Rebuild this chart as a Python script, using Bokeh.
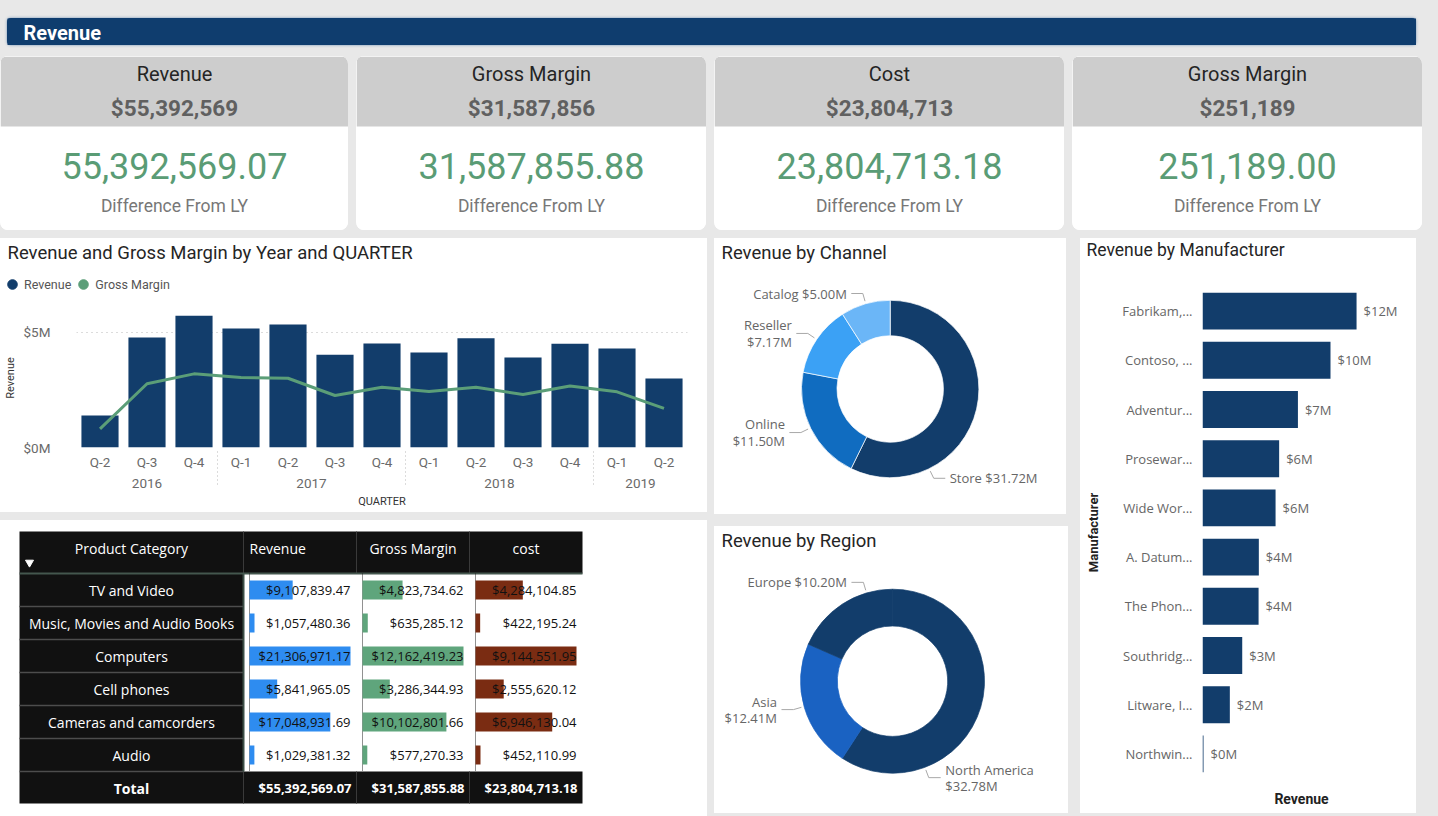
import numpy as np
from bokeh.plotting import figure
from bokeh.layouts import row, column
from bokeh.models import (ColumnDataSource, FactorRange, Range1d, Label, Legend,
                          LegendItem, FixedTicker, CustomJSTickFormatter)
from bokeh.core.properties import value
from bokeh.embed import file_html
from bokeh.resources import INLINE

# ---------------- data ----------------
kpi_titles = ["Revenue", "Gross Margin", "Cost", "Gross Margin"]
kpi_values = [55392569.07, 31587855.88, 23804713.18, 251189.00]
kpi_caption = "Difference From LY"

years = ["2016", "2016", "2016", "2017", "2017", "2017", "2017",
         "2018", "2018", "2018", "2018", "2019", "2019"]
quarters = ["Q-2", "Q-3", "Q-4", "Q-1", "Q-2", "Q-3", "Q-4",
            "Q-1", "Q-2", "Q-3", "Q-4", "Q-1", "Q-2"]
quarter_revenue = [1.39e6, 4.78e6, 5.72e6, 5.17e6, 5.35e6, 4.03e6, 4.52e6,
                   4.13e6, 4.75e6, 3.91e6, 4.51e6, 4.30e6, 3.00e6]
quarter_gross_margin = [0.81e6, 2.77e6, 3.20e6, 3.04e6, 3.01e6, 2.26e6, 2.62e6,
                        2.43e6, 2.62e6, 2.30e6, 2.67e6, 2.42e6, 1.70e6]

channels = ["Store", "Online", "Reseller", "Catalog"]
channel_revenue = [31.72e6, 11.50e6, 7.17e6, 5.00e6]

regions = ["North America", "Asia", "Europe"]
region_revenue = [32.78e6, 12.41e6, 10.20e6]

manufacturers = ["Fabrikam,...", "Contoso, ...", "Adventur...", "Prosewar...",
                 "Wide Wor...", "A. Datum...", "The Phon...", "Southridg...",
                 "Litware, I...", "Northwin..."]
manufacturer_revenue = [12.06e6, 10.02e6, 7.47e6, 6.00e6, 5.72e6,
                        4.41e6, 4.39e6, 3.11e6, 2.14e6, 0.08e6]

table_headers = ["Product Category", "Revenue", "Gross Margin", "cost"]
product_categories = ["TV and Video", "Music, Movies and Audio Books", "Computers",
                      "Cell phones", "Cameras and camcorders", "Audio"]
category_revenue = [9107839.47, 1057480.36, 21306971.17, 5841965.05, 17048931.69, 1029381.32]
category_gross_margin = [4823734.62, 635285.12, 12162419.23, 3286344.93, 10102801.66, 577270.33]
category_cost = [4284104.85, 422195.24, 9144551.95, 2555620.12, 6946130.04, 452110.99]
total_label = "Total"
table_totals = [55392569.07, 31587855.88, 23804713.18]

# ---------------- styles ----------------
BG = "#e8e8e8"
NAVY = "#123d6b"
GREEN = "#5b9e78"
TFONT = "Roboto"
BFONT = "Open Sans"
channel_colors = ["#123d6b", "#106cc0", "#3ba1f5", "#6bb6f7"]
region_colors = ["#123d6b", "#1a62c2", "#123d6b"]
table_bar_colors = ["#2e8cf0", "#5fa57c", "#7a2c12"]
WHITE_HOST = {"background-color": "white"}


def base_fig(w, h, xr, yr, styles=None, **kw):
    p = figure(width=w, height=h, x_range=xr, y_range=yr, toolbar_location=None,
               output_backend="svg", min_border=0, x_axis_type=None, y_axis_type=None,
               frame_align=False, styles=styles or WHITE_HOST, **kw)
    p.outline_line_color = None
    p.background_fill_color = "white"
    p.border_fill_color = "white"
    return p


def style_axis(ax, font):
    ax.axis_line_color = None
    ax.major_tick_line_color = None
    ax.minor_tick_line_color = None
    ax.major_tick_out = 0
    ax.major_tick_in = 0
    ax.major_label_text_font = font
    ax.axis_label_text_font = TFONT


# ---------------- title bar ----------------
tb = base_fig(1409, 27, Range1d(0, 1409), Range1d(27, 0), margin=(18, 0, 0, 7),
              styles={"background-color": "#0f3d6e", "border-radius": "4px",
                      "box-shadow": "0 0 3px #6d8fb3"})
tb.background_fill_color = "#0f3d6e"
tb.border_fill_color = "#0f3d6e"
tb.add_layout(Label(x=16, y=14, text="Revenue", text_color="white", text_font=TFONT,
                    text_font_style="bold", text_font_size="20px", text_baseline="middle"))


# ---------------- KPI cards ----------------
def kpi_card(title, v, w):
    p = base_fig(w, 174, Range1d(0, w), Range1d(174, 0),
                 styles={"background-color": "white", "border-radius": "8px", "overflow": "hidden"})
    p.quad(left=[0], right=[w], top=[0], bottom=[70], fill_color="#cdcdcd", line_color=None)
    specs = [(title, 17, "20px", "normal", "#252525"),
             (f"${v:,.0f}", 51, "22.5px", "bold", "#606060"),
             (f"{v:,.2f}", 109, "36px", "normal", "#5a9c75"),
             (kpi_caption, 149, "17.5px", "normal", "#777777")]
    for text, y, size, style, color in specs:
        p.add_layout(Label(x=w / 2, y=y, text=text, text_align="center", text_baseline="middle",
                           text_font=TFONT, text_font_size=size, text_font_style=style,
                           text_color=color))
    return p


card_widths = [348, 350, 350, 350]
cards = [kpi_card(t, v, w) for t, v, w in zip(kpi_titles, kpi_values, card_widths)]
kpi_row = row(*cards, spacing=8, margin=(11, 0, 0, 0))

# ---------------- bar + line chart ----------------
BW, BHEAD, BH = 707, 70, 204
BL, BR, BB = 76, 20, 65
bc_head = base_fig(BW, BHEAD, Range1d(0, BW), Range1d(BHEAD, 0))
bc_head.add_layout(Label(x=7, y=14, text="Revenue and Gross Margin by Year and QUARTER",
                         text_font=TFONT, text_font_size="18.5px", text_color="#252525",
                         text_baseline="middle"))
# off-canvas points: only their legend glyphs are seen
r_rev = bc_head.scatter(x=[-1000], y=[-1000], marker="circle", size=10,
                        fill_color=NAVY, line_color=NAVY)
r_gm = bc_head.scatter(x=[-1000], y=[-1000], marker="circle", size=10,
                       fill_color=GREEN, line_color=GREEN)
leg = Legend(items=[LegendItem(label="Revenue", renderers=[r_rev]),
                    LegendItem(label="Gross Margin", renderers=[r_gm])],
             orientation="horizontal", location=(0, 12),
             glyph_width=24, glyph_height=24, label_standoff=-4, spacing=0, padding=0, margin=0,
             border_line_color=None, background_fill_alpha=0,
             label_text_font=TFONT, label_text_font_size="12.5px", label_text_color="#555555")
bc_head.add_layout(leg)

factors = list(zip(years, quarters))
bsrc = ColumnDataSource(dict(x=factors, rev=quarter_revenue, gm=quarter_gross_margin))
bc = figure(width=BW, height=BH, toolbar_location=None, output_backend="svg", frame_align=False,
            x_range=FactorRange(*factors, factor_padding=0, group_padding=0, range_padding=0),
            y_range=Range1d(0, 6.04e6), styles=WHITE_HOST,
            min_border_left=BL, min_border_right=BR, min_border_top=0, min_border_bottom=BB)
bc.outline_line_color = None
bc.border_fill_color = "white"
bc.vbar(x="x", top="rev", width=0.79, source=bsrc, fill_color=NAVY, line_color=None)
bc.line(x="x", y="gm", source=bsrc, line_color=GREEN, line_width=3)
bc.xgrid.grid_line_color = None
bc.ygrid.grid_line_color = "#b8b8b8"
bc.ygrid.grid_line_dash = "1 4"
bc.yaxis.ticker = FixedTicker(ticks=[0, 5e6])
bc.yaxis.formatter = CustomJSTickFormatter(code="return '$' + Math.round(tick/1e6) + 'M';")
for ax in [bc.xaxis[0], bc.yaxis[0]]:
    style_axis(ax, TFONT)
    ax.major_label_text_font_size = "13.5px"
    ax.major_label_text_color = "#6a6a6a"
    ax.axis_label_text_font_size = "11px"
    ax.axis_label_text_font_style = "normal"
    ax.axis_label_text_color = "#333333"
bc.yaxis.axis_label = "Revenue"
bc.yaxis.major_label_standoff = 26
bc.yaxis.axis_label_standoff = 4
bc.xaxis.axis_label = "QUARTER"
bc.xaxis.major_label_standoff = 6
bc.xaxis.axis_label_standoff = 4
bc.xaxis.group_text_font = TFONT
bc.xaxis.group_text_font_size = "13.5px"
bc.xaxis.group_text_font_style = "normal"
bc.xaxis.group_text_color = "#6a6a6a"
bc.xaxis.separator_line_color = "#b8b8b8"
bc.xaxis.separator_line_dash = "1 3"
bc.xaxis.separator_line_width = 1

# ---------------- table ----------------
TW, TH = 707, 296
tf = base_fig(TW, TH, Range1d(0, TW), Range1d(TH, 0))
col_edges = [19, 243, 356, 469, 582]
t_top, head_h, row_h = 11, 42, 33
n = len(product_categories)
row_top = np.array([t_top + head_h + i * row_h for i in range(n)], dtype=float)
row_mid = row_top + row_h / 2
total_top = t_top + head_h + n * row_h
BLACK = "#111111"
tf.quad(left=[col_edges[0], col_edges[0], col_edges[0]],
        right=[col_edges[-1], col_edges[1], col_edges[-1]],
        top=[t_top, t_top + head_h, total_top],
        bottom=[t_top + head_h, total_top, total_top + row_h - 1],
        fill_color=BLACK, line_color=None)
tf.segment(x0=col_edges[0], x1=col_edges[1], y0=list(row_top[1:]) + [total_top],
           y1=list(row_top[1:]) + [total_top], line_color="#4d4d4d", line_width=1.5)
sep_x = col_edges[1:-1]
tf.segment(x0=sep_x, x1=sep_x, y0=[t_top] * 3, y1=[t_top + head_h] * 3, line_color="#3a3a3a", line_width=1)
tf.segment(x0=sep_x, x1=sep_x, y0=[total_top] * 3, y1=[total_top + row_h - 1] * 3,
           line_color="#3a3a3a", line_width=1)
tf.segment(x0=[col_edges[1]], x1=[col_edges[1]], y0=[t_top + head_h], y1=[total_top],
           line_color="#3d4f47", line_width=2)
tf.segment(x0=[col_edges[0]], x1=[col_edges[-1]], y0=[t_top + head_h], y1=[t_top + head_h],
           line_color="#44574e", line_width=2)
bx = [e + 6 for e in col_edges[1:-1]]
tf.segment(x0=bx, x1=bx, y0=[t_top + head_h] * 3, y1=[total_top] * 3,
           line_color="#222222", line_dash="1 1", line_width=1)

measures = [category_revenue, category_gross_margin, category_cost]
for j, vals in enumerate(measures):
    cl, cr = col_edges[j + 1], col_edges[j + 2]
    vals = np.array(vals)
    left = cl + 6
    right = left + vals / vals.max() * (cr - cl - 12)
    tf.quad(left=[left] * n, right=list(right), top=list(row_top + 7), bottom=list(row_top + 26),
            fill_color=table_bar_colors[j], line_color=None)
    tf.text(x=[cr - 6] * n, y=list(row_mid), text=[f"${v:,.2f}" for v in vals],
            text_align="right", text_baseline="middle", text_font=value(BFONT),
            text_font_size="13px", text_color="#111111")
    tf.text(x=[cr - 5], y=[total_top + row_h / 2], text=[f"${table_totals[j]:,.2f}"],
            text_align="right", text_baseline="middle", text_font=value(BFONT),
            text_font_size="13px", text_font_style="bold", text_color="white")

cat_cx = (col_edges[0] + col_edges[1]) / 2
tf.text(x=[cat_cx] * n, y=list(row_mid), text=product_categories, text_align="center",
        text_baseline="middle", text_font=value(BFONT), text_font_size="14px", text_color="white")
tf.text(x=[cat_cx], y=[total_top + row_h / 2], text=[total_label], text_align="center",
        text_baseline="middle", text_font=value(BFONT), text_font_size="14px",
        text_font_style="bold", text_color="white")
head_x = [cat_cx, col_edges[1] + 6, (col_edges[2] + col_edges[3]) / 2, (col_edges[3] + col_edges[4]) / 2]
head_align = ["center", "left", "center", "center"]
for hx, ha, ht in zip(head_x, head_align, table_headers):
    tf.text(x=[hx], y=[t_top + 17], text=[ht], text_align=ha, text_baseline="middle",
            text_font=value(BFONT), text_font_size="14px", text_color="white")
tf.scatter(x=[col_edges[0] + 10], y=[t_top + 31], marker="inverted_triangle", size=8,
           fill_color="white", line_color="white")


# ---------------- donuts ----------------
def donut_fig(w, h, cx, cy, R, names, vals, colors, label_angles, label_seps, title, edge):
    p = base_fig(w, h, Range1d(-cx / R, (w - cx) / R), Range1d(-(h - cy) / R, cy / R))
    frac = np.array(vals) / sum(vals)
    cum = np.concatenate([[0.0], np.cumsum(frac)]) * 2 * np.pi
    src = ColumnDataSource(dict(start=np.pi / 2 - cum[:-1], end=np.pi / 2 - cum[1:], color=colors))
    p.annular_wedge(x=0, y=0, inner_radius=0.6, outer_radius=1.0, start_angle="start",
                    end_angle="end", direction="clock", fill_color="color",
                    line_color=edge, line_width=0.7, source=src)
    a = np.radians(np.array(label_angles))
    side = np.sign(np.sin(a))
    x1, y1 = 1.03 * np.sin(a), 1.03 * np.cos(a)
    x2, y2 = 1.12 * np.sin(a), 1.12 * np.cos(a)
    x3 = x2 + side * 0.13
    p.multi_line(xs=[[u, v, t] for u, v, t in zip(x1, x2, x3)],
                 ys=[[u, v, v] for u, v in zip(y1, y2)], line_color="#a8a8a8", line_width=1)
    texts = [f"{nm}{sp}${v / 1e6:.2f}M" for nm, sp, v in zip(names, label_seps, vals)]
    lsrc = ColumnDataSource(dict(x=x3 + side * 0.05, y=y2, text=texts,
                                 align=["left" if s > 0 else "right" for s in side]))
    p.text(x="x", y="y", text="text", text_align="align", text_baseline="middle",
           text_font=value(BFONT), text_font_size="13px", text_color="#666666",
           text_line_height=0.9, source=lsrc)
    p.add_layout(Label(x=(7 - cx) / R, y=(cy - 14) / R, text=title, text_font=TFONT,
                       text_font_size="18.5px", text_color="#252525", text_baseline="middle"))
    return p


channel_fig = donut_fig(352, 276, 175.7, 150.5, 88.7, channels, channel_revenue, channel_colors,
                        [154, 244, 304, 344], [" ", "\n", "\n", " "], "Revenue by Channel", "white")
region_fig = donut_fig(354, 287, 178, 154.7, 92, regions, region_revenue, region_colors,
                       [159.4, 254, 343.6], ["\n", "\n", " "], "Revenue by Region", "color")

# ---------------- manufacturer bars ----------------
MW, MHEAD, MH = 336, 48, 527
ML, MR, MB = 122, 16, 35
mf_head = base_fig(MW, MHEAD, Range1d(0, MW), Range1d(MHEAD, 0))
mf_head.add_layout(Label(x=6, y=11, text="Revenue by Manufacturer", text_font=TFONT,
                         text_font_size="17.5px", text_color="#252525", text_baseline="middle"))
msrc = ColumnDataSource(dict(name=manufacturers, rev=manufacturer_revenue,
                             label=[f"${v / 1e6:.0f}M" for v in manufacturer_revenue]))
mf = figure(width=MW, height=MH, toolbar_location=None, output_backend="svg", frame_align=False,
            y_range=FactorRange(*reversed(manufacturers), range_padding=0),
            x_range=Range1d(0, 15.5e6), styles=WHITE_HOST,
            min_border_left=ML, min_border_right=MR, min_border_top=0, min_border_bottom=MB)
mf.outline_line_color = None
mf.border_fill_color = "white"
mf.grid.grid_line_color = None
mf.hbar(y="name", right="rev", left=0, height=0.75, source=msrc, fill_color=NAVY, line_color=None)
mf.text(x="rev", y="name", text="label", x_offset=7, text_baseline="middle",
        text_font=value(BFONT), text_font_size="13px", text_color="#666666", source=msrc)
for ax in [mf.xaxis[0], mf.yaxis[0]]:
    style_axis(ax, BFONT)
    ax.axis_label_text_font_style = "bold"
    ax.axis_label_text_color = "#222222"
mf.yaxis.major_label_text_font_size = "13px"
mf.yaxis.major_label_text_color = "#666666"
mf.yaxis.major_label_standoff = 10
mf.yaxis.axis_label = "Manufacturer"
mf.yaxis.axis_label_text_font_size = "13px"
mf.yaxis.axis_label_standoff = 18
mf.xaxis.major_label_text_font_size = "1px"
mf.xaxis.major_label_text_color = None
mf.xaxis.major_label_standoff = 0
mf.xaxis.axis_label = "Revenue"
mf.xaxis.axis_label_text_font_size = "14px"
mf.xaxis.axis_label_standoff = 8

# ---------------- layout ----------------
left_col = column(column(bc_head, bc), tf, spacing=8)
mid_col = column(channel_fig, region_fig, spacing=12, margin=(0, 0, 0, 7))
right_col = column(mf_head, mf, margin=(0, 0, 0, 12))
lower = row(left_col, mid_col, right_col, margin=(8, 0, 0, 0))
root = column(tb, kpi_row, lower, width=1438, height=816,
              styles={"background-color": BG})

open("out.html", "w").write(file_html(root, INLINE))
